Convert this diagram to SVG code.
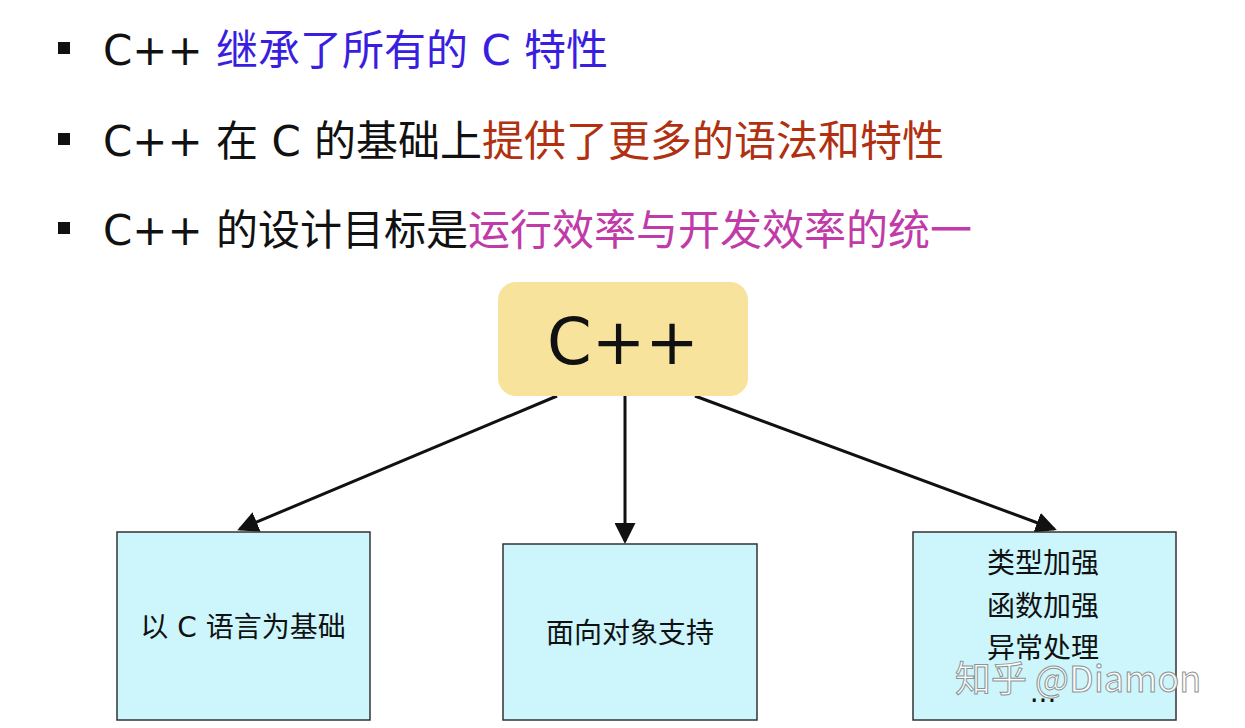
<svg xmlns="http://www.w3.org/2000/svg" width="1245" height="728" viewBox="0 0 1245 728">
<style>
.t{font-family:"DejaVu Sans","Noto Sans CJK SC",sans-serif;fill:#111}
.b{font-size:42px}
.box{fill:#ccf6fc;stroke:#333;stroke-width:1.5}
.lbl{font-size:28px;text-anchor:middle}
.ln{stroke:#111;stroke-width:3;fill:none;marker-end:url(#ah)}
</style>
<defs><marker id="ah" markerWidth="7" markerHeight="7" refX="6" refY="3.5" orient="auto" markerUnits="strokeWidth"><path d="M0,0 L7,3.5 L0,7 Z" fill="#111"/></marker></defs>
<rect width="1245" height="728" fill="#fff"/>
<g id="bullets">
<rect x="58" y="42" width="12" height="12" fill="#111"/>
<rect x="58" y="133" width="12" height="12" fill="#111"/>
<rect x="58" y="222" width="12" height="12" fill="#111"/>
<text class="t b" x="103" y="65">C++ <tspan fill="#3a1ee0">继承了所有的 C 特性</tspan></text>
<text class="t b" x="103" y="156">C++ 在 C 的基础上<tspan fill="#b03010">提供了更多的语法和特性</tspan></text>
<text class="t b" x="103" y="245">C++ 的设计目标是<tspan fill="#c03aa8">运行效率与开发效率的统一</tspan></text>
</g>
<g id="connectors">
<line class="ln" x1="557" y1="396" x2="240" y2="529"/>
<line class="ln" x1="625" y1="396" x2="625" y2="541"/>
<line class="ln" x1="695" y1="396" x2="1054" y2="529"/>
</g>
<g id="root"><rect x="498" y="282" width="250" height="114" rx="18" fill="#f7e39c"/>
<text class="t" x="623" y="364" font-size="64" text-anchor="middle">C++</text></g>
<g id="n1"><rect class="box" x="117" y="532" width="253" height="188"/><text class="t lbl" x="243" y="637">以 C 语言为基础</text></g>
<g id="n2"><rect class="box" x="503" y="544" width="254" height="176"/><text class="t lbl" x="630" y="643">面向对象支持</text></g>
<g id="n3"><rect class="box" x="913" y="532" width="263" height="188"/>
<text class="t lbl" x="1043" y="573">类型加强</text>
<text class="t lbl" x="1043" y="616">函数加强</text>
<text class="t lbl" x="1043" y="658">异常处理</text>
<text class="t lbl" x="1043" y="702">...</text></g>
<text x="955" y="692" font-family="Noto Sans CJK SC,sans-serif" font-size="36" fill="#fff" stroke="#888" stroke-width="1" opacity="0.9">知乎 @Diamon</text>
</svg>
